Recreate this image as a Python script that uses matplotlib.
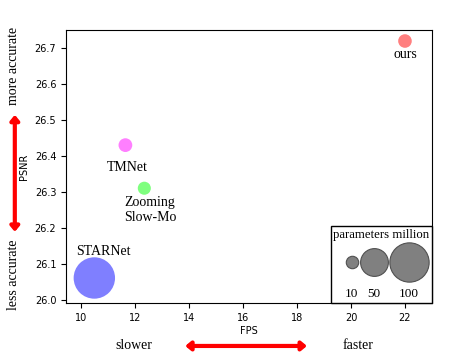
import matplotlib.pyplot as plt
from matplotlib.offsetbox import VPacker

methods = ["ours", "TMNet", "Zooming\nSlow-Mo", "STARNet"]
fps = [22.0, 11.65, 12.35, 10.5]
psnr = [26.72, 26.43, 26.31, 26.06]
params_million = [12.0, 12.26, 11.10, 111.0]
colors = ["red", "magenta", "lime", "blue"]
label_offsets = [(0, -10), (1.5, -16), (4, -16), (6.5, 19)]

legend_sizes = [10, 50, 100]
legend_col_widths = [11.5, 20.0, 30.0]  # points
SIZE_SCALE = 8.0

SERIF = ["Liberation Serif", "DejaVu Serif"]

fig = plt.figure(figsize=(4.63, 3.6), dpi=100)
ax = fig.add_axes([0.1425, 0.158, 0.7905, 0.759])

for x, y, p, c, name, off in zip(fps, psnr, params_million, colors, methods, label_offsets):
    ax.scatter(x, y, s=p * SIZE_SCALE, color=c, alpha=0.5, edgecolors="none")
    ax.annotate(name, (x, y), xytext=off, textcoords="offset points",
                ha="center", va="center", multialignment="center",
                fontsize=10, family=SERIF)

ax.set_xlim(9.45, 23.0)
ax.set_ylim(25.99, 26.751)
ax.set_xticks(range(10, 23, 2))
ax.set_yticks([26.0, 26.1, 26.2, 26.3, 26.4, 26.5, 26.6, 26.7])
ax.tick_params(labelsize=7)
ax.set_xlabel("FPS", fontsize=7, labelpad=2)
ax.set_ylabel("PSNR", fontsize=7, labelpad=4)

# size legend with the labels under the circles
handles = [ax.scatter([], [], s=v * SIZE_SCALE, facecolor="gray", edgecolors="#505050",
                      linewidths=0.8) for v in legend_sizes]
leg = ax.legend(handles, [str(v) for v in legend_sizes], ncol=3, loc="lower right",
                title="parameters million", prop={"family": SERIF, "size": 9.5},
                title_fontproperties={"family": SERIF, "size": 9.2},
                handlelength=2.0, handleheight=3.1, columnspacing=0.0,
                handletextpad=0.2, borderpad=0.2, borderaxespad=0.0, labelspacing=1.05,
                alignment="right", fancybox=False, edgecolor="black", framealpha=1)
leg.get_frame().set_linewidth(1.0)
columns = leg._legend_handle_box.get_children()
for column, new_w in zip(columns, legend_col_widths):
    new_items = []
    for item in column.get_children():
        da, txt = item.get_children()
        dx = (new_w - da.width) / 2.0
        da.width = new_w
        for art in da.get_children():
            art.set_offsets(art.get_offsets() + [dx, 0])
        new_items.append(VPacker(pad=0, sep=3, children=[da, txt], align="center"))
    column._children = new_items

arrow = dict(arrowstyle="<|-|>,head_length=0.3,head_width=0.25", color="red", lw=3,
             shrinkA=0, shrinkB=0)
ax.annotate("", xy=(0.032, 0.681), xytext=(0.032, 0.356), xycoords="figure fraction",
            textcoords="figure fraction", arrowprops=arrow, annotation_clip=False)
ax.annotate("", xy=(0.40, 0.039), xytext=(0.663, 0.039), xycoords="figure fraction",
            textcoords="figure fraction", arrowprops=arrow, annotation_clip=False)

fig.text(0.03, 0.817, "more accurate", rotation=90, ha="center", va="center",
         fontsize=10, family=SERIF)
fig.text(0.03, 0.238, "less accurate", rotation=90, ha="center", va="center",
         fontsize=10, family=SERIF)
fig.text(0.288, 0.041, "slower", ha="center", va="center", fontsize=10, family=SERIF)
fig.text(0.774, 0.041, "faster", ha="center", va="center", fontsize=10, family=SERIF)

fig.savefig("out.png", dpi=100)
